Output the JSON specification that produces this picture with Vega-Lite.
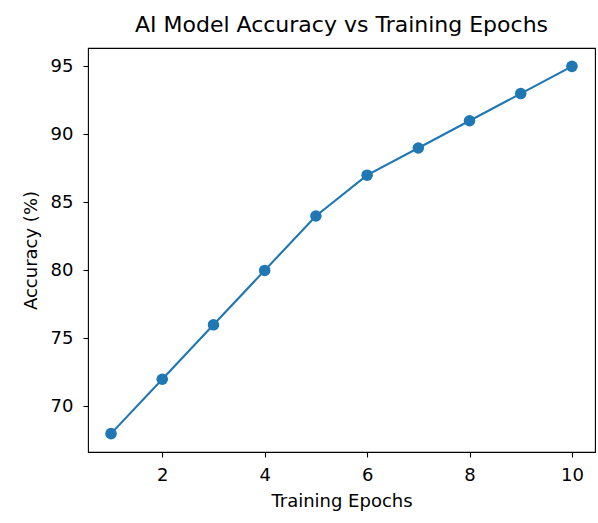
{
  "$schema": "https://vega.github.io/schema/vega-lite/v6.json",
  "autosize": {"type": "none"},
  "width": 507,
  "height": 404,
  "padding": {"left": 88, "top": 48, "right": 3, "bottom": 71},
  "background": "white",
  "title": {
    "text": "AI Model Accuracy vs Training Epochs",
    "font": "DejaVu Sans",
    "fontSize": 22,
    "fontWeight": "normal",
    "color": "#000000",
    "anchor": "middle",
    "baseline": "bottom",
    "offset": -11
  },
  "data": {
    "values": [
      {"epoch": 1, "accuracy": 68},
      {"epoch": 2, "accuracy": 72},
      {"epoch": 3, "accuracy": 76},
      {"epoch": 4, "accuracy": 80},
      {"epoch": 5, "accuracy": 84},
      {"epoch": 6, "accuracy": 87},
      {"epoch": 7, "accuracy": 89},
      {"epoch": 8, "accuracy": 91},
      {"epoch": 9, "accuracy": 93},
      {"epoch": 10, "accuracy": 95}
    ]
  },
  "encoding": {
    "x": {
      "field": "epoch",
      "type": "quantitative",
      "title": "Training Epochs",
      "scale": {"domain": [0.55, 10.45], "nice": false, "zero": false},
      "axis": {"values": [2, 4, 6, 8, 10], "grid": false}
    },
    "y": {
      "field": "accuracy",
      "type": "quantitative",
      "title": "Accuracy (%)",
      "scale": {"domain": [66.65, 96.35], "nice": false, "zero": false},
      "axis": {"values": [70, 75, 80, 85, 90, 95], "grid": false}
    }
  },
  "layer": [
    {"mark": {"type": "line", "color": "#1f77b4", "strokeWidth": 2.1}},
    {"mark": {"type": "circle", "color": "#1f77b4", "opacity": 1, "size": 133}}
  ],
  "config": {
    "view": {"stroke": "#000000", "strokeWidth": 1.1},
    "axis": {
      "domain": false,
      "tickColor": "#000000",
      "tickSize": 5,
      "tickWidth": 1.1,
      "labelFont": "DejaVu Sans",
      "labelFontSize": 18,
      "labelColor": "#000000",
      "titleFont": "DejaVu Sans",
      "titleFontSize": 18,
      "titleFontWeight": "normal",
      "titleColor": "#000000"
    },
    "axisX": {"labelPadding": 9, "titlePadding": 8},
    "axisY": {"labelPadding": 10, "titlePadding": 10}
  }
}
